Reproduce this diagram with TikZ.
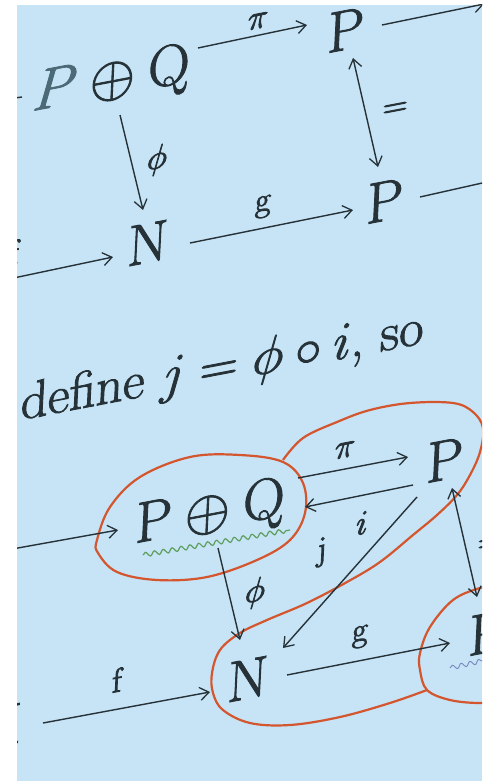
\RequirePackage{fix-cm}
\documentclass[tikz,border=0pt]{standalone}
\usetikzlibrary{arrows.meta,decorations.pathmorphing}
\definecolor{bg}{HTML}{C6E4F6}
\definecolor{ink}{HTML}{263238}
\definecolor{fade}{HTML}{4A6A78}
\definecolor{redl}{HTML}{D4562E}
\definecolor{grn}{HTML}{5E9E5E}
\definecolor{blu}{HTML}{7A86C0}
\newcommand{\thk}{\special{pdf:literal direct 2 Tr 0.9 w}}
\begin{document}
\begin{tikzpicture}[x=1pt,y=-1pt,
  tilt/.style={cm={1,0.19,0.05,1,(0,0)}},
  obj/.style={font=\fontsize{58}{60}\selectfont\thk, text=ink, inner sep=0pt, tilt},
  lbl/.style={font=\fontsize{34}{36}\selectfont\thk, text=ink, inner sep=0pt, tilt},
  txt/.style={font=\fontsize{53}{56}\selectfont\thk, text=ink, inner sep=0pt, tilt},
  tip/.tip={Straight Barb[length=9pt,width=13pt,line width=1.3pt]},
  arr/.style={draw=ink, line width=1.4pt, -tip},
  darr/.style={draw=ink, line width=1.4pt, tip-tip},
  ln/.style={draw=ink, line width=1.4pt},
  redline/.style={draw=redl, line width=2.2pt},
  squig/.style={decorate, decoration={snake, segment length=9pt, amplitude=2.2pt}, line width=1.2pt},
]
\useasboundingbox (0,0) rectangle (493,781);
\fill[white] (0,0) rectangle (493,781);
\begin{scope}
\clip (17,5) rectangle (482,781);
\fill[bg] (17,5) rectangle (482,781);

% ---------- top diagram ----------
\node[obj] (pq) at (111,82) {$\textcolor{fade}{P}\oplus\mathrm{Q}$};
\node[obj] (p1) at (346,30) {$\mathrm{P}$};
\node[obj] (p2) at (385,201) {$\mathrm{P}$};
\node[obj] (n1) at (148,243) {$\mathrm{N}$};
\coordinate (lt1) at (0,100);
\coordinate (rt1) at (484,4);
\coordinate (rt2) at (500,179);
\coordinate (lf1) at (-10,283);

\draw[arr] ([shift={(87,-34)}]pq.center) -- ([shift={(-39,-5)}]p1.center);
\draw[arr] ([shift={(9,33)}]pq.center) -- ([shift={(-5,-33)}]n1.center);
\draw[arr] ([shift={(42,0)}]n1.center) -- ([shift={(-32,9)}]p2.center);
\draw[darr] ([shift={(7,28)}]p1.center) -- ([shift={(-7,-34)}]p2.center);
\draw[arr] ([shift={(36,-5)}]p1.center) -- (rt1);
\draw[ln] ([shift={(35,-4)}]p2.center) -- (rt2);
\draw[ln] (lt1) -- ([shift={(-89,15)}]pq.center);
\draw[arr] (lf1) -- ([shift={(-35,14)}]n1.center);

\node[lbl] (lpi1) at (258,21) {$\pi$};
\node[lbl] (lphi1) at (157,160) {$\phi$};
\node[lbl] (lg1) at (263,207) {$\mathrm{g}$};
\node[lbl] (lf1t) at (15,252) {$\mathrm{f}$};
\node[lbl] (leq1) at (395,110) {$=$};

% ---------- sentence ----------
\node[txt, anchor=base west] (def) at (20,420) {define $j=\phi\circ i$, so};

% ---------- bottom diagram ----------
\draw[redline] plot[smooth cycle, tension=0.6] coordinates {
  (97,540) (110,507) (140,477) (190,457) (240,455) (283,462) (303,483)
  (305,513) (290,540) (257,560) (207,577) (157,580) (117,572) (98,553)};
\draw[redline] plot[smooth, tension=0.6] coordinates {
  (283,460) (303,438) (337,422) (370,410) (410,403) (453,403) (473,412)
  (483,428) (480,452) (470,475) (457,495) (437,515) (413,535) (380,562)
  (347,582) (307,603) (267,620) (240,633) (220,650) (212,673) (213,693)
  (223,710) (250,723) (290,725) (340,717) (390,703) (427,690)};
\draw[redline] plot[smooth, tension=0.6] coordinates {
  (500,585) (480,588) (453,600) (430,627) (420,653) (420,670) (427,690)
  (450,700) (480,703) (500,700)};

\node[obj] (pq2) at (210,515) {$\mathrm{P}\oplus\mathrm{Q}$};
\node[obj] (p3) at (445,460) {$\mathrm{P}$};
\node[obj] (n2) at (248,679) {$\mathrm{N}$};
\node[obj] (p4) at (487,633) {$\mathrm{P}$};
\node[obj] (m) at (-3,727) {$\mathrm{M}$};
\coordinate (lf2) at (-10,553);

\draw[grn, squig] (143,555) -- (290,530);
\draw[blu, squig, line width=0.9pt] (450,668) -- (486,660);

\draw[arr] (lf2) -- ([shift={(-92,15)}]pq2.center);
\draw[arr] ([shift={(88,-37)}]pq2.center) -- ([shift={(-37,-3)}]p3.center);
\draw[arr] ([shift={(-32,25)}]p3.center) -- ([shift={(95,-8)}]pq2.center);
\draw[arr] ([shift={(-28,37)}]p3.center) -- ([shift={(35,-31)}]n2.center);
\draw[arr] ([shift={(8,33)}]pq2.center) -- ([shift={(-8,-39)}]n2.center);
\draw[arr] ([shift={(39,-4)}]n2.center) -- ([shift={(-37,10)}]p4.center);
\draw[arr] ([shift={(46,-4)}]m.center) -- ([shift={(-38,13)}]n2.center);
\draw[darr] ([shift={(7,28)}]p3.center) -- ([shift={(-10,-36)}]p4.center);

\node[lbl] (lpi2) at (345,450) {$\pi$};
\node[lbl] (li2) at (362,523) {$i$};
\node[lbl] (lj2) at (322,552) {$\mathrm{j}$};
\node[lbl] (lphi2) at (255,593) {$\phi$};
\node[lbl] (lg2) at (360,637) {$\mathrm{g}$};
\node[lbl] (lf2t) at (118,680) {$\mathrm{f}$};
\node[lbl] (leq2) at (490,545) {$=$};
\end{scope}
\end{tikzpicture}
\end{document}
